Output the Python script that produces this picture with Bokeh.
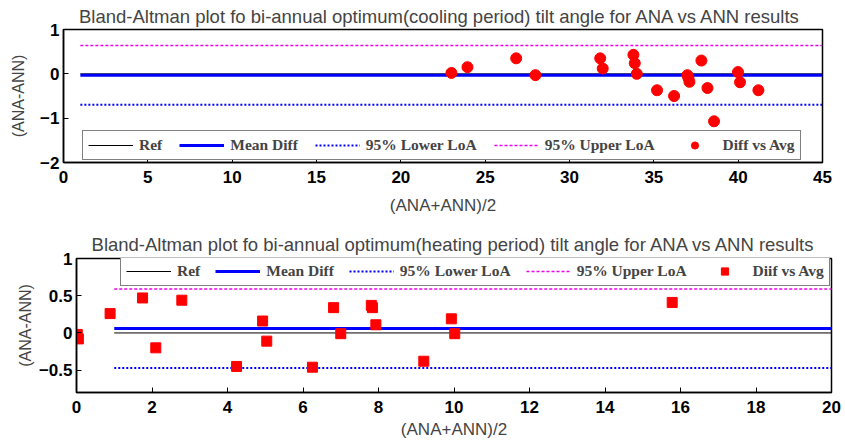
from bokeh.plotting import figure
from bokeh.layouts import column
from bokeh.models import Range1d, FixedTicker, Legend, LegendItem
from bokeh.embed import file_html
from bokeh.resources import INLINE

# ---- cooling period (top panel) ----
cool_avg = [23.0, 23.95, 26.84, 27.98, 31.82, 31.97, 33.79, 33.87, 33.99, 35.19,
            36.2, 36.99, 37.05, 37.11, 37.82, 38.18, 38.57, 39.99, 40.11, 41.2]
cool_diff = [0.02, 0.15, 0.35, -0.03, 0.35, 0.12, 0.43, 0.24, 0.0, -0.37,
             -0.50, -0.03, -0.09, -0.18, 0.30, -0.32, -1.07, 0.04, -0.19, -0.37]
cool_ref = 0.0
cool_mean = -0.03
cool_lower = -0.70
cool_upper = 0.64
cool_line_x = [1, 45]
cool_xticks = [0, 5, 10, 15, 20, 25, 30, 35, 40, 45]
cool_yticks = [-2, -1, 0, 1]
cool_ylabels = {-2: "\u22122", -1: "\u22121", 0: "0", 1: "1"}

# ---- heating period (bottom panel) ----
heat_avg = [0.02, 0.05, 0.89, 1.75, 2.1, 2.79, 4.24, 4.93, 5.04, 6.25,
            6.81, 7.0, 7.81, 7.84, 7.93, 9.2, 9.93, 10.02, 15.78]
heat_diff = [-0.02, -0.08, 0.26, 0.47, -0.20, 0.44, -0.45, 0.16, -0.11, -0.46,
             0.34, -0.01, 0.37, 0.34, 0.11, -0.38, 0.19, -0.01, 0.41]
heat_ref = 0.0
heat_mean = 0.06
heat_lower = -0.47
heat_upper = 0.59
heat_line_x = [1, 20]
heat_xticks = [0, 2, 4, 6, 8, 10, 12, 14, 16, 18, 20]
heat_yticks = [-0.5, 0, 0.5, 1]
heat_ylabels = {-0.5: "\u22120.5", 0: "0", 0.5: "0.5", 1: "1"}

SANS = "Liberation Sans"
SERIF = "Liberation Serif"


def build(title, xr, yr, xticks, yticks, ylabels, line_x, ref, mean, lower, upper,
          xs, ys, marker, msize, point_label, width, height, borders, legend_loc,
          legend_spacing, title_standoff, xlabel_standoff, ylabel_standoff):
    bl, br, bt, bb = borders
    p = figure(width=width, height=height, output_backend="svg", toolbar_location=None,
               x_range=Range1d(*xr), y_range=Range1d(*yr),
               min_border_left=bl, min_border_right=br, min_border_top=bt,
               min_border_bottom=bb)
    if "frame_align" in p.properties():
        p.frame_align = False
    p.title.text = title
    p.title.text_font = SANS
    p.title.text_font_style = "normal"
    p.title.text_font_size = "18.5px"
    p.title.align = "center"
    p.title.standoff = title_standoff
    p.grid.visible = False
    p.outline_line_color = "black"
    p.outline_line_width = 1.5
    p.background_fill_color = "white"
    p.border_fill_color = "white"

    for ax, ticks in ((p.xaxis[0], xticks), (p.yaxis[0], yticks)):
        ax.ticker = FixedTicker(ticks=ticks)
        ax.major_tick_in = 5
        ax.major_tick_out = 0
        ax.minor_tick_line_color = None
        ax.axis_line_width = 1.5
        ax.major_tick_line_width = 1
        ax.major_label_text_font = SANS
        ax.major_label_text_font_style = "bold"
        ax.major_label_text_font_size = "17px"
        ax.major_label_text_color = "black"
        ax.axis_label_text_font = SANS
        ax.axis_label_text_font_style = "normal"
    p.xaxis[0].axis_label_text_font_size = "17px"
    p.yaxis[0].axis_label_text_font_size = "16px"
    p.yaxis[0].major_label_overrides = ylabels
    p.xaxis[0].axis_label = "(ANA+ANN)/2"
    p.yaxis[0].axis_label = "(ANA-ANN)"
    p.xaxis[0].major_label_standoff = 8
    p.yaxis[0].major_label_standoff = 4
    p.xaxis[0].axis_label_standoff = xlabel_standoff
    p.yaxis[0].axis_label_standoff = ylabel_standoff

    r_ref = p.line(line_x, [ref, ref], line_color="black", line_width=1)
    r_mean = p.line(line_x, [mean, mean], line_color="#0000ff", line_width=3)
    r_low = p.line(line_x, [lower, lower], line_color="#0000ff", line_width=2,
                   line_dash="2 2")
    r_up = p.line(line_x, [upper, upper], line_color="#ee00ee", line_width=1.5,
                  line_dash="3 2")
    r_pts = p.scatter(xs, ys, marker=marker, size=msize, fill_color="#ff0000",
                      line_color="#ff0000")

    legend = Legend(items=[
        LegendItem(label="Ref", renderers=[r_ref]),
        LegendItem(label="Mean Diff", renderers=[r_mean]),
        LegendItem(label="95% Lower LoA", renderers=[r_low]),
        LegendItem(label="95% Upper LoA", renderers=[r_up]),
        LegendItem(label=point_label, renderers=[r_pts]),
    ])
    legend.orientation = "horizontal"
    legend.location = legend_loc
    legend.margin = 0
    legend.padding = 5
    legend.spacing = legend_spacing
    legend.glyph_width = 45
    legend.glyph_height = 18
    legend.label_height = 18
    legend.label_standoff = 6
    legend.label_text_font = SERIF
    legend.label_text_font_style = "bold"
    legend.label_text_font_size = "15.5px"
    legend.label_text_baseline = "middle"
    legend.border_line_color = "black"
    legend.border_line_width = 1.5
    legend.background_fill_color = "white"
    legend.background_fill_alpha = 1
    p.add_layout(legend)
    return p


p1 = build("Bland-Altman plot fo bi-annual optimum(cooling period)  tilt angle for ANA vs ANN results",
           (0, 45), (-2, 1), cool_xticks, cool_yticks, cool_ylabels, cool_line_x,
           cool_ref, cool_mean, cool_lower, cool_upper, cool_avg, cool_diff,
           "circle", 11, "Diff vs Avg", 845, 220, (63, 23, 28, 58), (19, 2), 17, 6, 10, 10)

p2 = build("Bland-Altman plot fo bi-annual optimum(heating period) tilt angle for ANA vs ANN results",
           (0, 20), (-0.8, 1), heat_xticks, heat_yticks, heat_ylabels, heat_line_x,
           heat_ref, heat_mean, heat_lower, heat_upper, heat_avg, heat_diff,
           "square", 10, "Diif vs Avg", 845, 222, (76, 14, 38, 50), (44, 106), 15, 7, 4, 2)

layout = column(p1, p2, spacing=0)
open("out.html", "w").write(file_html(layout, INLINE))
